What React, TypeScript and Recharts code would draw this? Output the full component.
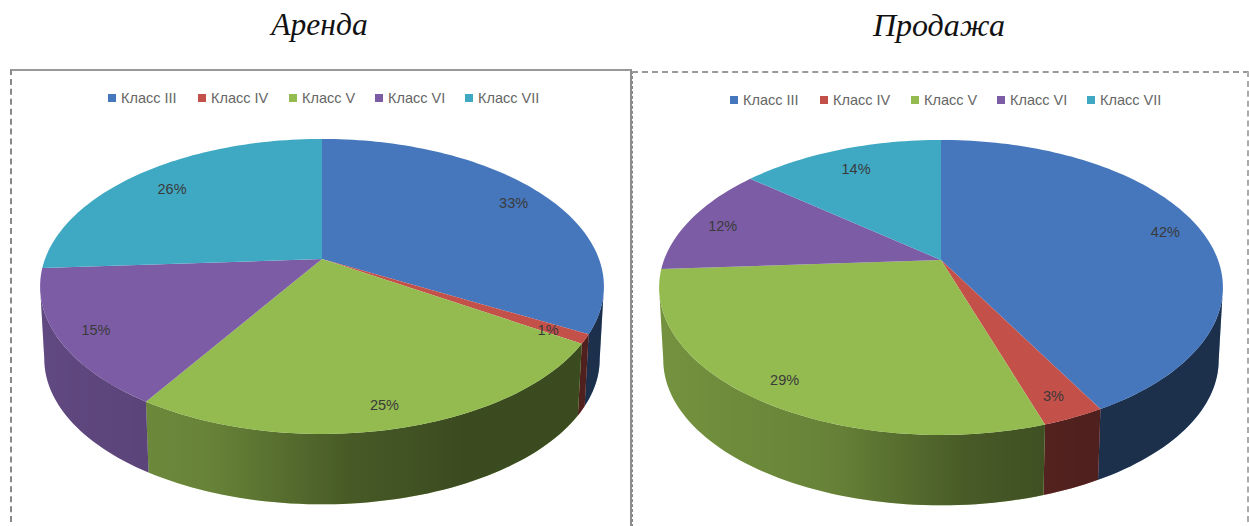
import { Legend, Pie, PieChart } from "recharts";

const classes = ["Класс III", "Класс IV", "Класс V", "Класс VI", "Класс VII"];
const colors = ["#4677BC", "#C4504A", "#94BB50", "#7C5DA5", "#3FA9C3"];
const rentShares = [33, 1, 25, 15, 26];
const saleShares = [42, 3, 29, 12, 14];

const toRows = (shares: number[]) =>
  classes.map((name, i) => ({ name, value: shares[i], fill: colors[i] }));

// perspective of the disc: a unit circle mapped on to the page
const TILT = 0.186;
const SCALE_X = 277;
const SCALE_Y = 142.4;
const WALL_DROP = 73;
const WALL_SHRINK = 0.985;
// rim angle (clockwise from 12 o'clock) where the wall comes into view
const WALL_FROM = (Math.acos(-TILT) * 180) / Math.PI;

const rad = (deg: number) => (deg * Math.PI) / 180;

const project = (clockDeg: number, r = 1) => {
  const u = r * Math.sin(rad(clockDeg));
  const v = -r * Math.cos(rad(clockDeg));
  const w = 1 - TILT * v;
  return { x: (SCALE_X * u) / w, y: (SCALE_Y * v) / w };
};

const rimPoints = (from: number, to: number) => {
  const steps = Math.max(2, Math.ceil((to - from) / 1.5));
  const pts = [];
  for (let i = 0; i <= steps; i++) pts.push(project(from + ((to - from) * i) / steps));
  return pts;
};

const pathOf = (pts: { x: number; y: number }[]) =>
  pts.map((p, i) => `${i ? "L" : "M"}${p.x.toFixed(2)} ${p.y.toFixed(2)}`).join("") + "Z";

const makeSlice = (ox: number, oy: number, shadeId: string) => (props: any) => {
  const from = 90 - props.startAngle;
  const to = 90 - props.endAngle;
  const wallFrom = Math.max(from, WALL_FROM);
  const wallTo = Math.min(to, 360 - WALL_FROM);
  let wall = "";
  if (wallFrom < wallTo) {
    const upper = rimPoints(wallFrom, wallTo);
    const lower = upper
      .map((p) => ({ x: p.x * WALL_SHRINK, y: p.y * WALL_SHRINK + WALL_DROP }))
      .reverse();
    wall = pathOf([...upper, ...lower]);
  }
  return (
    <g transform={`translate(${ox} ${oy})`}>
      {wall && <path d={wall} fill={props.fill} />}
      {wall && <path d={wall} fill={`url(#${shadeId})`} />}
      <path d={pathOf([{ x: 0, y: 0 }, ...rimPoints(from, to)])} fill={props.fill} />
    </g>
  );
};

const makeLabel = (ox: number, oy: number) => (props: any) => {
  const clock = 90 - props.midAngle;
  // labels on the far side of the disc sit a little further in
  const p = project(clock, Math.cos(rad(clock)) > 0.6 ? 0.82 : 0.87);
  return (
    <text
      x={ox + p.x}
      y={oy + p.y + 2}
      textAnchor="middle"
      dominantBaseline="central"
      fontFamily="'Liberation Sans', sans-serif"
      fontSize={14.5}
      fill="#3a3a3a"
    >
      {props.value}%
    </text>
  );
};

const legendOffsets = [0, 90, 181, 267, 357];

const LegendRow = ({ payload }: any) => (
  <div style={{ position: "absolute", left: 98, top: 21, whiteSpace: "nowrap", height: 16 }}>
    {payload.map((entry: any, i: number) => (
      <span
        key={entry.value}
        style={{
          position: "absolute",
          left: legendOffsets[i],
          top: 0,
          display: "flex",
          alignItems: "center",
          fontFamily: "'Liberation Sans', sans-serif",
          fontSize: 14.5,
          color: "#666",
        }}
      >
        <span style={{ width: 8, height: 8, marginRight: 5, background: entry.color }} />
        {entry.value}
      </span>
    ))}
  </div>
);

type PanelProps = {
  id: string;
  title: string;
  titleX: number;
  titleSize: number;
  shares: number[];
  left: number;
  top: number;
  width: number;
  // apex of the slices, in chart coordinates
  ox: number;
  oy: number;
  frame: React.CSSProperties;
};

function Panel({ id, title, titleX, titleSize, shares, left, top, width, ox, oy, frame }: PanelProps) {
  const height = 526 - top;
  return (
    <>
      <div
        style={{
          position: "absolute",
          left: titleX - 150,
          width: 300,
          top: 7,
          textAlign: "center",
          fontFamily: "'Liberation Serif', serif",
          fontStyle: "italic",
          fontSize: titleSize,
          color: "#111",
        }}
      >
        {title}
      </div>
      <div style={{ position: "absolute", left, top, width, height: height + 6, boxSizing: "border-box", ...frame }} />
      <div style={{ position: "absolute", left, top, width, height }}>
        <PieChart width={width} height={height} margin={{ top: 0, right: 0, bottom: 0, left: 0 }}>
          <defs>
            {/* wall shading, in the coordinates of the translated slice group */}
            <linearGradient id={id} gradientUnits="userSpaceOnUse" x1={-282} x2={282} y1={0} y2={0}>
              <stop offset="0" stopColor="#000" stopOpacity={0.22} />
              <stop offset="0.3" stopColor="#000" stopOpacity={0.3} />
              <stop offset="0.55" stopColor="#000" stopOpacity={0.52} />
              <stop offset="0.75" stopColor="#000" stopOpacity={0.6} />
              <stop offset="1" stopColor="#000" stopOpacity={0.6} />
            </linearGradient>
          </defs>
          <Legend verticalAlign="top" content={LegendRow} />
          <Pie
            data={toRows(shares)}
            dataKey="value"
            nameKey="name"
            cx={ox}
            cy={oy}
            outerRadius={200}
            startAngle={90}
            endAngle={-270}
            stroke="none"
            legendType="square"
            isAnimationActive={false}
            shape={makeSlice(ox, oy, id)}
            label={makeLabel(ox, oy)}
            labelLine={false}
          />
        </PieChart>
      </div>
    </>
  );
}

export default function App() {
  return (
    <div style={{ position: "absolute", left: 0, top: 0, width: 1249, height: 526, overflow: "hidden", background: "#fff" }}>
      <Panel
        id="rentShade"
        title="Аренда"
        titleX={319.5}
        titleSize={31.5}
        shares={rentShares}
        left={10}
        top={69}
        width={622}
        ox={312}
        oy={190}
        frame={{
          borderTop: "2px solid #999",
          borderRight: "2px solid #8c8c8c",
          borderLeft: "2px dashed #888",
          borderBottom: "1px dashed #666",
        }}
      />
      <Panel
        id="saleShade"
        title="Продажа"
        titleX={939}
        titleSize={32}
        shares={saleShares}
        left={632}
        top={71}
        width={617}
        ox={309}
        oy={189}
        frame={{
          borderTop: "2px dashed #999",
          borderRight: "2px dashed #aaa",
          borderLeft: "1px dashed #888",
          borderBottom: "1px dashed #666",
        }}
      />
    </div>
  );
}
